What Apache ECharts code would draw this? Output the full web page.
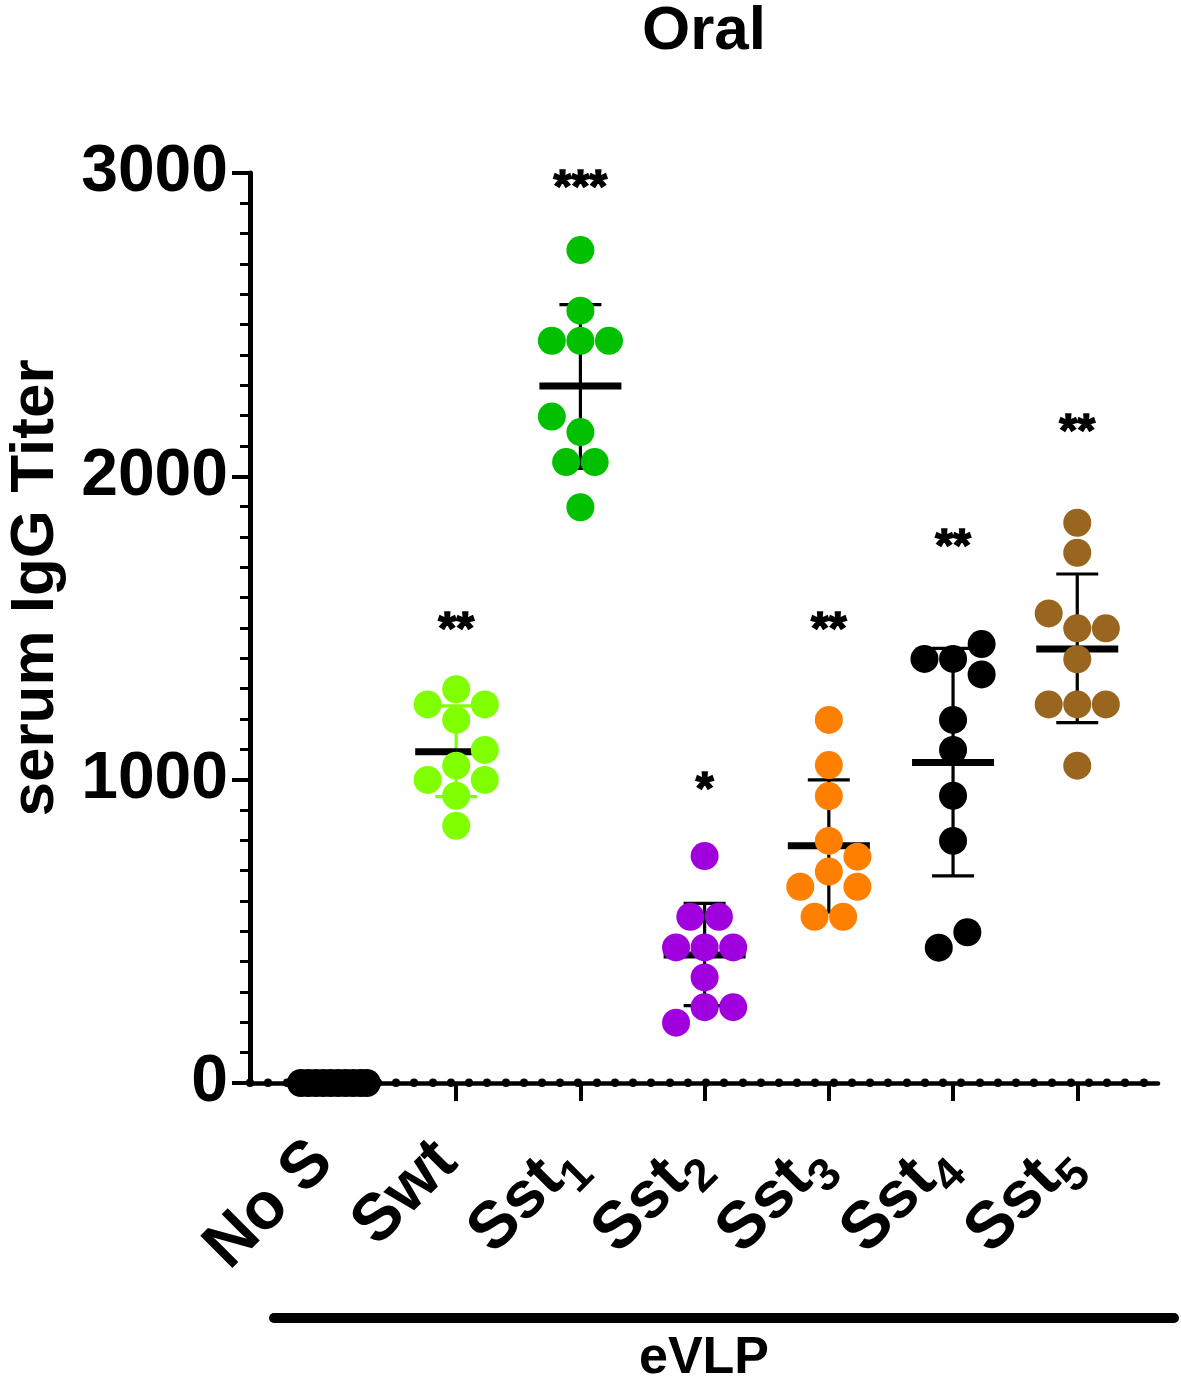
<!DOCTYPE html>
<html>
<head>
<meta charset="utf-8">
<script src="https://cdn.jsdelivr.net/npm/echarts@6/dist/echarts.min.js"></script>
<style>
html, body { margin: 0; padding: 0; background: #fff; }
#chart { width: 1181px; height: 1387px; }
</style>
</head>
<body>
<div id="chart"></div>
<script>
// groups on the x axis (0..6)
var categories = ['No S', 'Swt', 'Sst1', 'Sst2', 'Sst3', 'Sst4', 'Sst5'];
var tickLabels = ['{m|No S}', '{m|Swt}', '{m|Sst}{s|1}', '{m|Sst}{s|2}', '{m|Sst}{s|3}', '{m|Sst}{s|4}', '{m|Sst}{s|5}'];
var colors = ['#000000', '#80ff00', '#00c000', '#a100de', '#ff8000', '#000000', '#996620'];
var errColors = ['#000000', '#80ff00', '#000000', '#000000', '#000000', '#000000', '#000000'];

// individual titers, with horizontal spread (in group widths)
var noS   = [0, 0, 0, 0, 0, 0, 0, 0, 0, 0];
var noSDx = [-0.25, -0.19, -0.13, -0.07, -0.01, 0.05, 0.11, 0.17, 0.23, 0.28];
var swt   = [1298, 1248, 1248, 1197, 1098, 1046, 999, 999, 947, 848];
var swtDx = [0, -0.23, 0.23, 0, 0.23, 0, -0.23, 0.23, 0, 0];
var sst1   = [2746, 2546, 2447, 2447, 2447, 2197, 2146, 2047, 2047, 1898];
var sst1Dx = [0, 0, -0.23, 0, 0.23, -0.23, 0, -0.115, 0.115, 0];
var sst2   = [748, 548, 548, 447, 447, 447, 348, 250, 250, 199];
var sst2Dx = [0, -0.115, 0.115, -0.23, 0, 0.23, 0, 0, 0.23, -0.23];
var sst3   = [1197, 1048, 946, 798, 746, 697, 647, 647, 548, 548];
var sst3Dx = [0, 0, 0, 0, 0.23, 0, -0.23, 0.23, -0.115, 0.115];
var sst4   = [1447, 1398, 1398, 1347, 1197, 1098, 947, 798, 497, 446];
var sst4Dx = [0.23, -0.23, 0, 0.23, 0, 0, 0, 0, 0.115, -0.115];
var sst5   = [1847, 1748, 1548, 1499, 1499, 1397, 1248, 1248, 1248, 1046];
var sst5Dx = [0, 0, -0.23, 0, 0.23, 0, -0.23, 0, 0.23, 0];

// mean and SD bars as drawn
var means  = [0, 1092, 2298, 422, 782, 1057, 1431];
var sdLow  = [0, 944, 2026, 255, 563, 683, 1188];
var sdHigh = [0, 1243, 2566, 592, 999, 1433, 1678];

// significance marks
var starGroup = [1, 2, 3, 4, 5, 6];
var starText  = ['**', '***', '*', '**', '**', '**'];
var starValue = [1526, 2984, 999, 1526, 1800, 2179];

var groups = [[noS, noSDx], [swt, swtDx], [sst1, sst1Dx], [sst2, sst2Dx], [sst3, sst3Dx], [sst4, sst4Dx], [sst5, sst5Dx]];
var FONT = '"Liberation Sans", Arial, Helvetica, sans-serif';

var myChart = echarts.init(document.getElementById('chart'));

var series = [];

// mean + SD
var barData = [];
for (var g = 1; g < groups.length; g++) {
  barData.push([g, means[g], sdLow[g], sdHigh[g], g]);
}
series.push({
  type: 'custom',
  xAxisIndex: 0,
  yAxisIndex: 0,
  clip: false,
  z: 2,
  data: barData,
  renderItem: function (params, api) {
    var x = api.value(0), m = api.value(1), lo = api.value(2), hi = api.value(3);
    var c = errColors[api.value(4)];
    var pm = api.coord([x, m]);
    var pl = api.coord([x, lo]);
    var ph = api.coord([x, hi]);
    var lw = 3.2;
    return {
      type: 'group',
      children: [
        { type: 'line', shape: { x1: pl[0], y1: pl[1], x2: ph[0], y2: ph[1] }, style: { stroke: c, lineWidth: lw } },
        { type: 'line', shape: { x1: pl[0] - 21, y1: pl[1], x2: pl[0] + 21, y2: pl[1] }, style: { stroke: c, lineWidth: lw } },
        { type: 'line', shape: { x1: ph[0] - 21, y1: ph[1], x2: ph[0] + 21, y2: ph[1] }, style: { stroke: c, lineWidth: lw } },
        { type: 'rect', shape: { x: pm[0] - 41, y: pm[1] - 3.5, width: 82, height: 7 }, style: { fill: '#000' } }
      ]
    };
  }
});

// points
groups.forEach(function (grp, gi) {
  series.push({
    type: 'scatter',
    xAxisIndex: 0,
    yAxisIndex: 0,
    z: 3,
    symbol: 'circle',
    symbolSize: 28,
    itemStyle: { color: colors[gi], opacity: 1 },
    data: grp[0].map(function (v, k) { return [gi + grp[1][k], v]; })
  });
});

// stars
series.push({
  type: 'scatter',
  xAxisIndex: 0,
  yAxisIndex: 0,
  z: 4,
  symbolSize: 0,
  itemStyle: { color: '#000', opacity: 1 },
  data: starGroup.map(function (g, k) { return [g, starValue[k]]; }),
  label: {
    show: true,
    position: 'inside',
    offset: [0, 11],
    formatter: function (p) { return starText[p.dataIndex]; },
    color: '#000000',
    opacity: 1,
    textBorderColor: '#000000',
    textBorderWidth: 1.5,
    fontFamily: FONT,
    fontWeight: 'bold',
    fontSize: 46
  }
});

var dotTicks = [];
for (var d = 0; d < 50; d++) dotTicks.push(d);

option = {
  animation: false,
  backgroundColor: '#ffffff',
  grid: { left: 250, right: 23, top: 173, bottom: 304, containLabel: false },
  xAxis: [{
    type: 'value',
    min: -0.66,
    max: 6.65,
    position: 'bottom',
    splitLine: { show: false },
    axisLine: { show: true, onZero: false, lineStyle: { color: '#000', width: 4.5 } },
    axisTick: { show: true, customValues: [1, 2, 3, 4, 5, 6], length: 18, lineStyle: { color: '#000', width: 4 } },
    axisLabel: {
      show: true,
      customValues: [0, 1, 2, 3, 4, 5, 6],
      showMinLabel: true,
      showMaxLabel: true,
      hideOverlap: false,
      rotate: 45,
      margin: 78,
      formatter: function (v) { return tickLabels[Math.round(v)]; },
      rich: {
        m: { fontFamily: FONT, fontWeight: 'bold', fontSize: 66, lineHeight: 92, color: '#000', verticalAlign: 'top' },
        s: { fontFamily: FONT, fontWeight: 'bold', fontSize: 46, lineHeight: 46, padding: [32, 0, 0, 0], color: '#000', verticalAlign: 'top' }
      }
    }
  }, {
    type: 'value',
    min: 0,
    max: 49.8,
    position: 'bottom',
    offset: 0,
    splitLine: { show: false },
    axisLine: { show: false, onZero: false },
    axisLabel: { show: false },
    axisTick: { show: true, inside: true, customValues: dotTicks, length: 0.5, lineStyle: { color: '#000', width: 8, cap: 'round' } }
  }],
  yAxis: {
    type: 'value',
    min: 0,
    max: 3000,
    interval: 1000,
    splitLine: { show: false },
    axisLine: { show: true, onZero: false, lineStyle: { color: '#000', width: 5 } },
    axisTick: { show: true, length: 18, lineStyle: { color: '#000', width: 4 } },
    minorTick: { show: true, splitNumber: 10, length: 10, lineStyle: { color: '#000', width: 3 } },
    minorSplitLine: { show: false },
    axisLabel: {
      margin: 22,
      color: '#000',
      fontFamily: FONT,
      fontWeight: 'bold',
      fontSize: 66,
      formatter: function (v) { return String(v); }
    }
  },
  graphic: [
    { type: 'text', x: 704, y: 32, style: { text: 'Oral', fill: '#000', font: 'bold 62px ' + FONT, textAlign: 'center', textVerticalAlign: 'middle' } },
    { type: 'text', x: 36, y: 588, rotation: Math.PI / 2, style: { text: 'serum IgG Titer', fill: '#000', font: 'bold 62px ' + FONT, textAlign: 'center', textVerticalAlign: 'middle' } },
    { type: 'line', shape: { x1: 274, y1: 1318, x2: 1174, y2: 1318 }, style: { stroke: '#000', lineWidth: 10, lineCap: 'round' } },
    { type: 'text', x: 704, y: 1359, style: { text: 'eVLP', fill: '#000', font: 'bold 52px ' + FONT, textAlign: 'center', textVerticalAlign: 'middle' } }
  ],
  series: series
};

myChart.setOption(option);
</script>
</body>
</html>
